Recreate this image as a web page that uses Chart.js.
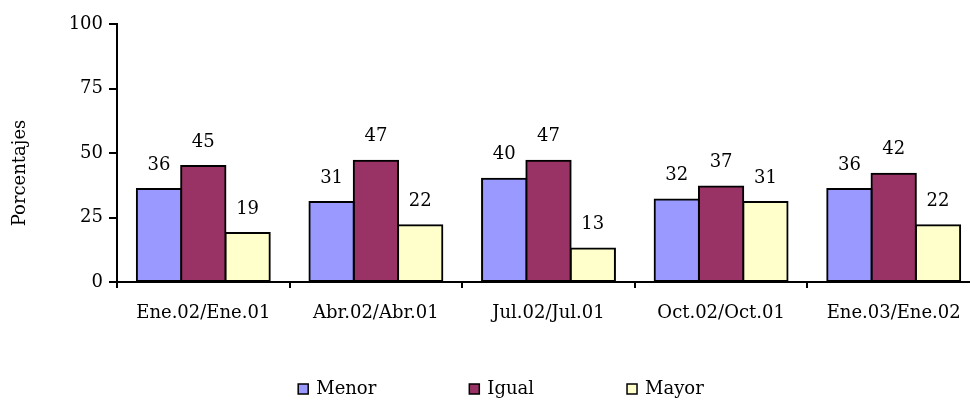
<!DOCTYPE html>
<html>
<head>
<meta charset="utf-8">
<script src="https://cdn.jsdelivr.net/npm/chart.js@4"></script>
<style>
  html, body { margin: 0; padding: 0; background: #fff; overflow: hidden; }
  #wrap { width: 980px; height: 403px; }
</style>
</head>
<body>
<div id="wrap"><canvas id="chart"></canvas></div>
<script>
const categorias = ["Ene.02/Ene.01", "Abr.02/Abr.01", "Jul.02/Jul.01", "Oct.02/Oct.01", "Ene.03/Ene.02"];
const menor = [36, 31, 40, 32, 36];
const igual = [45, 47, 47, 37, 42];
const mayor = [19, 22, 13, 31, 22];
const ticksY = [0, 25, 50, 75, 100];

const FONT = "'DejaVu Serif', serif";

// etiquetas de valor encima de cada barra
const valueLabels = {
  id: "valueLabels",
  afterDatasetsDraw(chart) {
    const ctx = chart.ctx;
    ctx.save();
    ctx.font = "18px " + FONT;
    ctx.fillStyle = "#000";
    ctx.textAlign = "center";
    ctx.textBaseline = "middle";
    chart.data.datasets.forEach((ds, i) => {
      chart.getDatasetMeta(i).data.forEach((bar, j) => {
        ctx.fillText(ds.data[j], bar.x, bar.y - 24);
      });
    });
    ctx.restore();
  }
};

// titulo del eje y y leyenda
const extras = {
  id: "extras",
  afterDraw(chart) {
    const ctx = chart.ctx;
    ctx.save();
    ctx.font = "18px " + FONT;
    ctx.fillStyle = "#000";
    ctx.translate(20, 173);
    ctx.rotate(-Math.PI / 2);
    ctx.textAlign = "center";
    ctx.textBaseline = "middle";
    ctx.fillText("Porcentajes", 0, 0);
    ctx.restore();

    ctx.save();
    ctx.font = "18px " + FONT;
    ctx.textBaseline = "middle";
    const gap = 93, box = 10, y = 389;
    const items = chart.data.datasets.map(ds => ({
      text: ds.label, color: ds.backgroundColor,
      w: box + 8 + ctx.measureText(ds.label).width
    }));
    const total = items.reduce((s, it) => s + it.w, 0) + gap * (items.length - 1);
    let x = 501 - total / 2;
    items.forEach(it => {
      ctx.fillStyle = it.color;
      ctx.fillRect(x, y - box / 2, box, box);
      ctx.strokeStyle = "#000";
      ctx.lineWidth = 1.5;
      ctx.strokeRect(x, y - box / 2, box, box);
      ctx.fillStyle = "#000";
      ctx.fillText(it.text, x + box + 8, y);
      x += it.w + gap;
    });
    ctx.restore();
  }
};

new Chart(document.getElementById("chart"), {
  type: "bar",
  data: {
    labels: categorias,
    datasets: [
      { label: "Menor", data: menor, backgroundColor: "#9999FF" },
      { label: "Igual", data: igual, backgroundColor: "#993366" },
      { label: "Mayor", data: mayor, backgroundColor: "#FFFFCC" }
    ]
  },
  options: {
    responsive: true,
    maintainAspectRatio: false,
    animation: false,
    categoryPercentage: 0.77,
    barPercentage: 1,
    datasets: {
      bar: { borderColor: "#000", borderWidth: 2, borderSkipped: false, inflateAmount: 1 }
    },
    layout: { padding: { top: 24, right: 0, bottom: 71, left: 0 } },
    plugins: {
      legend: { display: false },
      tooltip: { enabled: false }
    },
    scales: {
      x: {
        grid: { offset: true, drawOnChartArea: false, drawTicks: true, tickLength: 6, color: "#000", lineWidth: 2 },
        border: { display: true, color: "#000", width: 2 },
        ticks: { color: "#000", font: { family: FONT, size: 18 }, padding: 15, maxRotation: 0, autoSkip: false },
        afterFit(scale) { scale.height = 50; }
      },
      y: {
        min: 0,
        max: 100,
        afterBuildTicks(scale) { scale.ticks = ticksY.map(v => ({ value: v })); },
        grid: { drawOnChartArea: false, drawTicks: true, tickLength: 8, color: "#000", lineWidth: 2 },
        border: { display: true, color: "#000", width: 2 },
        ticks: { color: "#000", font: { family: FONT, size: 18 }, padding: 6 },
        afterFit(scale) { scale.width = 117; }
      }
    }
  },
  plugins: [valueLabels, extras]
});
</script>
</body>
</html>
